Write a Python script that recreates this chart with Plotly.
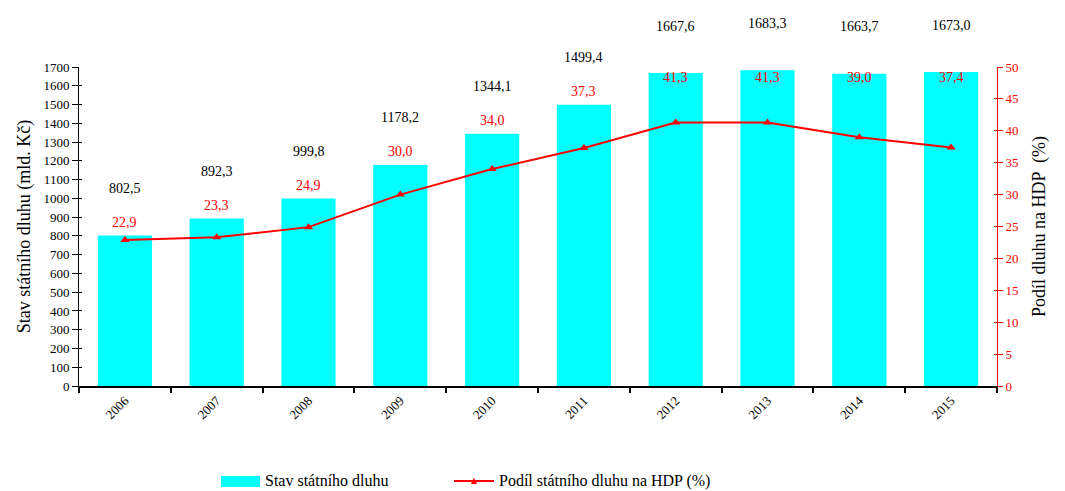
import plotly.graph_objects as go

years = ["2006", "2007", "2008", "2009", "2010", "2011", "2012", "2013", "2014", "2015"]
debt = [802.5, 892.3, 999.8, 1178.2, 1344.1, 1499.4, 1667.6, 1683.3, 1663.7, 1673.0]
share = [22.9, 23.3, 24.9, 30.0, 34.0, 37.3, 41.3, 41.3, 39.0, 37.4]
left_ticks = list(range(0, 1701, 100))
right_ticks = list(range(0, 51, 5))

FONT = "Liberation Serif"
RED = "#FF0000"
CYAN = "#00FFFF"

W, H = 1065, 491
L, R, T, B = 79, 68, 67, 105
PW, PH = W - L - R, H - T - B
YMAX = 1700


def fmt(v):
    return f"{v:.1f}".replace(".", ",")


def px_x(p):
    return (p - L) / PW


def px_y(p):
    return (H - B - p) / PH


fig = go.Figure()
fig.add_trace(go.Bar(
    x=years, y=debt, name="Stav státního dluhu",
    marker=dict(color=CYAN, line=dict(width=0)), width=0.59, yaxis="y",
    showlegend=False,
))
fig.add_trace(go.Scatter(
    x=years, y=share, name="Podíl státního dluhu na HDP (%)",
    mode="lines+markers", line=dict(color=RED, width=2),
    marker=dict(symbol="triangle-up", size=8, color=RED), yaxis="y2",
    showlegend=False,
))

annotations = []
for i, (d, s) in enumerate(zip(debt, share)):
    xp = (i + 0.5) / len(years)
    bar_top = d / YMAX
    annotations.append(dict(x=xp, y=bar_top + 47 / PH, xref="paper", yref="paper", text=fmt(d),
                            xanchor="center", yanchor="middle",
                            showarrow=False, font=dict(family=FONT, size=14, color="black")))
    annotations.append(dict(x=xp, y=min(bar_top + 13 / PH, px_y(77)), xref="paper", yref="paper",
                            text=fmt(s), showarrow=False, xanchor="center", yanchor="middle",
                            font=dict(family=FONT, size=14, color=RED)))

# custom legend
shapes = [
    dict(type="rect", xref="paper", yref="paper", x0=px_x(221), x1=px_x(260),
         y0=px_y(487), y1=px_y(476), fillcolor=CYAN, line=dict(width=0)),
    dict(type="line", xref="paper", yref="paper", x0=px_x(454), x1=px_x(494),
         y0=px_y(481), y1=px_y(481), line=dict(color=RED, width=2)),
]
annotations += [
    dict(x=px_x(263), y=px_y(481), xref="paper", yref="paper", xanchor="left", yanchor="middle",
         text="Stav státního dluhu", showarrow=False, font=dict(family=FONT, size=16)),
    dict(x=px_x(497), y=px_y(481), xref="paper", yref="paper", xanchor="left", yanchor="middle",
         text="Podíl státního dluhu na HDP (%)", showarrow=False, font=dict(family=FONT, size=16)),
    dict(x=px_x(474), y=px_y(481), xref="paper", yref="paper", xanchor="center", yanchor="middle",
         text="▲", showarrow=False, font=dict(family="DejaVu Sans", size=8, color=RED)),
]

fig.update_layout(
    width=W, height=H,
    margin=dict(l=L, r=R, t=T, b=B),
    paper_bgcolor="white", plot_bgcolor="white",
    font=dict(family=FONT, size=13, color="black"),
    showlegend=False,
    xaxis=dict(type="category", range=[-0.5, 9.5], showline=True, linecolor="black", linewidth=2,
               ticks="outside", ticklen=5, tickcolor="black", tickwidth=2,
               tickson="boundaries", tickangle=-45, tickfont=dict(family=FONT, size=13),
               showgrid=False, zeroline=False),
    yaxis=dict(range=[0, YMAX], tickvals=left_ticks, showline=True, linecolor="black",
               linewidth=1, ticks="outside", ticklen=6, tickcolor="black",
               tickfont=dict(family=FONT, size=13), showgrid=False, zeroline=False,
               title=dict(text="Stav státního dluhu (mld. Kč)", font=dict(family=FONT, size=18),
                          standoff=8)),
    yaxis2=dict(range=[0, 50], tickvals=right_ticks, overlaying="y", side="right",
                showline=True, linecolor=RED, linewidth=1, ticks="outside", ticklen=5,
                tickcolor=RED, tickfont=dict(family=FONT, size=13, color=RED),
                showgrid=False, zeroline=False,
                title=dict(text="Podíl dluhu na HDP  (%)", font=dict(family=FONT, size=18),
                           standoff=14)),
    yaxis3=dict(range=[0, YMAX], tickvals=left_ticks, overlaying="y", side="left",
                ticks="inside", ticklen=3, tickcolor="black", showticklabels=False,
                showgrid=False, zeroline=False, showline=False),
    yaxis4=dict(range=[0, 50], tickvals=right_ticks, overlaying="y", side="right",
                ticks="inside", ticklen=3, tickcolor=RED, showticklabels=False,
                showgrid=False, zeroline=False, showline=False),
    annotations=annotations,
    shapes=shapes,
)
# invisible traces to activate the inner tick axes
fig.add_trace(go.Scatter(x=[years[0]], y=[0], yaxis="y3", mode="markers",
                         marker=dict(opacity=0), showlegend=False, hoverinfo="skip"))
fig.add_trace(go.Scatter(x=[years[0]], y=[0], yaxis="y4", mode="markers",
                         marker=dict(opacity=0), showlegend=False, hoverinfo="skip"))

fig.write_html("out.html")
